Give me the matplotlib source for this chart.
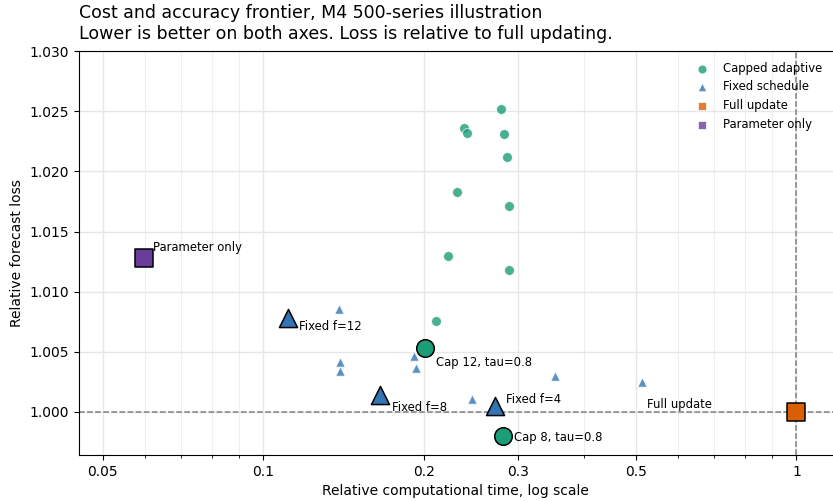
import numpy as np
import matplotlib
matplotlib.use("Agg")
import matplotlib.pyplot as plt
from matplotlib.ticker import FixedLocator, FixedFormatter, NullFormatter, LogLocator

# capped adaptive runs (time, loss)
cap_time = [0.2796, 0.2383, 0.2415, 0.2833, 0.2870, 0.2312, 0.2893, 0.2224, 0.2893, 0.2112, 0.2013, 0.2820]
cap_loss = [1.02518, 1.02360, 1.02319, 1.02311, 1.02120, 1.01829, 1.01713, 1.01297, 1.01181, 1.00757, 1.00533, 0.99802]

# fixed schedule runs
fix_time = [0.1389, 0.1395, 0.1395, 0.1920, 0.1936, 0.2466, 0.3530, 0.5140, 0.1114, 0.1658, 0.2724]
fix_loss = [1.00857, 1.00417, 1.00342, 1.00467, 1.00367, 1.00110, 1.00300, 1.00250, 1.00782, 1.00143, 1.00052]

full_time, full_loss = 1.0, 1.0
param_time, param_loss = 0.0598, 1.01281

# highlighted points and their labels
hl_cap = {"Cap 12, tau=0.8": (0.2013, 1.00533), "Cap 8, tau=0.8": (0.2820, 0.99802)}
hl_fix = {"Fixed f=12": (0.1114, 1.00782), "Fixed f=8": (0.1658, 1.00143), "Fixed f=4": (0.2724, 1.00052)}

c_cap = "#1b9e77"
c_fix = "#3274b5"
c_full = "#d95f02"
c_par = "#6a3d9a"

fig = plt.figure(figsize=(8.33, 5.01), dpi=100)
ax = fig.add_axes([0.0948, 0.092, 0.905, 0.806])

ax.scatter(cap_time, cap_loss, s=50, marker="o", color=c_cap, alpha=0.8,
           edgecolor="white", linewidth=0.6, label="Capped adaptive", zorder=3)
ax.scatter(fix_time, fix_loss, s=45, marker="^", color=c_fix, alpha=0.8,
           edgecolor="white", linewidth=0.6, label="Fixed schedule", zorder=3)
ax.scatter([full_time], [full_loss], s=50, marker="s", color=c_full, alpha=0.8,
           edgecolor="white", linewidth=0.6, label="Full update", zorder=3)
ax.scatter([param_time], [param_loss], s=50, marker="s", color=c_par, alpha=0.8,
           edgecolor="white", linewidth=0.6, label="Parameter only", zorder=3)

# highlighted markers
for name, (x, y) in hl_cap.items():
    ax.scatter([x], [y], s=160, marker="o", color=c_cap, edgecolor="black", linewidth=1.1, zorder=4)
for name, (x, y) in hl_fix.items():
    ax.scatter([x], [y], s=170, marker="^", color=c_fix, edgecolor="black", linewidth=1.1, zorder=4)
ax.scatter([full_time], [full_loss], s=150, marker="s", color=c_full, edgecolor="black", linewidth=1.1, zorder=4)
ax.scatter([param_time], [param_loss], s=150, marker="s", color=c_par, edgecolor="black", linewidth=1.1, zorder=4)

ax.axhline(1.0, color="grey", linestyle="--", linewidth=1.1, zorder=2)
ax.axvline(1.0, color="grey", linestyle="--", linewidth=1.1, zorder=2)

fs = 8.4
ax.annotate("Parameter only", (param_time, param_loss), xytext=(6, 5), textcoords="offset points", fontsize=fs)
ax.annotate("Fixed f=12", hl_fix["Fixed f=12"], xytext=(8, -9), textcoords="offset points", fontsize=fs)
ax.annotate("Fixed f=8", hl_fix["Fixed f=8"], xytext=(8, -12), textcoords="offset points", fontsize=fs)
ax.annotate("Fixed f=4", hl_fix["Fixed f=4"], xytext=(8, 2), textcoords="offset points", fontsize=fs)
ax.annotate("Cap 12, tau=0.8", hl_cap["Cap 12, tau=0.8"], xytext=(8, -13), textcoords="offset points", fontsize=fs)
ax.annotate("Cap 8, tau=0.8", hl_cap["Cap 8, tau=0.8"], xytext=(8, -4), textcoords="offset points", fontsize=fs)
ax.annotate("Full update", (full_time, full_loss), xytext=(-107.5, 3), textcoords="offset points", fontsize=fs)

ax.set_xscale("log")
ax.set_xlim(0.0451, 1.17)
ax.set_ylim(0.99643, 1.030)
xt = [0.05, 0.1, 0.2, 0.3, 0.5, 1]
ax.xaxis.set_major_locator(FixedLocator(xt))
ax.xaxis.set_major_formatter(FixedFormatter(["0.05", "0.1", "0.2", "0.3", "0.5", "1"]))
ax.xaxis.set_minor_locator(LogLocator(base=10, subs=np.arange(2, 10) * 1.0))
ax.xaxis.set_minor_formatter(NullFormatter())
ax.set_yticks([1.000, 1.005, 1.010, 1.015, 1.020, 1.025, 1.030])
ax.yaxis.set_major_formatter(plt.FormatStrFormatter("%.3f"))
ax.tick_params(axis="both", which="major", labelsize=10)

ax.grid(True, which="major", color="#e6e6e6", linewidth=1.0, zorder=0)
ax.grid(True, which="minor", axis="x", color="#eeeeee", linewidth=0.8, zorder=0)
ax.set_axisbelow(True)
ax.spines["right"].set_visible(False)

ax.set_xlabel("Relative computational time, log scale", fontsize=10)
ax.set_ylabel("Relative forecast loss", fontsize=10)
ax.set_title("Cost and accuracy frontier, M4 500-series illustration\n"
             "Lower is better on both axes. Loss is relative to full updating.",
             loc="left", fontsize=12.5, pad=9)

ax.legend(loc="upper right", frameon=False, fontsize=8.4, markerscale=0.9, handletextpad=0.8)

fig.savefig("out.png", dpi=100)
